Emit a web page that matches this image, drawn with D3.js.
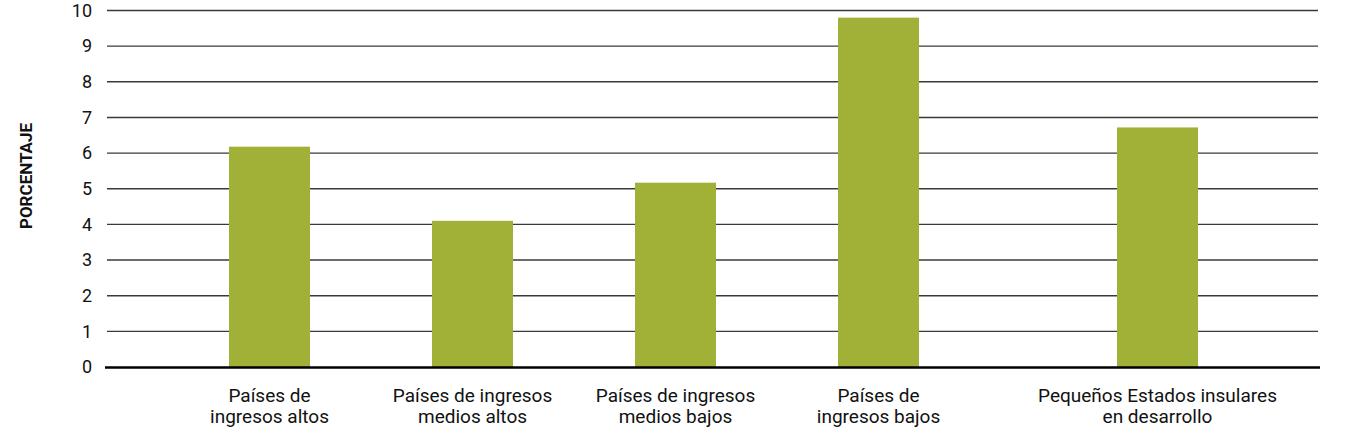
<!DOCTYPE html>
<html><head><meta charset="utf-8">
<script src="https://cdn.jsdelivr.net/npm/d3@7"></script>
<style>
body{margin:0;background:#fff;}
text{font-family:Roboto,"Liberation Sans Narrow",sans-serif;fill:#111;}
</style></head>
<body><svg id="c" width="1347" height="447"></svg>
<script>
const categories = [
  ["Países de","ingresos altos"],
  ["Países de ingresos","medios altos"],
  ["Países de ingresos","medios bajos"],
  ["Países de","ingresos bajos"],
  ["Pequeños Estados insulares","en desarrollo"]
];
const values = [6.18, 4.1, 5.17, 9.8, 6.72];
const yTicks = [0,1,2,3,4,5,6,7,8,9,10];
const yTitle = "PORCENTAJE";

const svg = d3.select("#c");
const mLeft = 107, mRight = 1318, mTop = 10.5, mBottom = 367;
const keys = categories.map((d,i)=>i);
// first four evenly spaced, last one separated by an extra gap
const x = d3.scaleBand().domain(keys.slice(0,4)).range([mLeft+61, mLeft+61+4*203]).paddingInner(0.6).paddingOuter(0.3);
const extraGap = 76;
const cx = i => i < 4 ? x(i) + x.bandwidth()/2 : x(3) + x.bandwidth()/2 + x.step() + extraGap;
const y = d3.scaleLinear().domain([0,10]).range([mBottom, mTop]);
const bw = 81;

// grid
svg.append("g").selectAll("line").data(yTicks.filter(t=>t>0)).join("line")
  .attr("x1", mLeft).attr("x2", mRight)
  .attr("y1", d=>y(d)).attr("y2", d=>y(d))
  .attr("stroke", "#3a3a3a").attr("stroke-width", 1.4);

// y axis labels
const ya = svg.append("g").attr("transform", `translate(${mLeft},0)`)
  .call(d3.axisLeft(y).tickValues(yTicks).tickSize(0).tickPadding(15).tickFormat(d3.format("d")));
ya.select(".domain").remove();
ya.selectAll("text").style("font-size","18px").style("font-family","Roboto, sans-serif").attr("fill","#111");

// bars
svg.append("g").selectAll("rect").data(values).join("rect")
  .attr("x", (d,i)=>cx(i)-bw/2).attr("width", bw)
  .attr("y", d=>y(d)).attr("height", d=>y(0)-y(d))
  .attr("fill", "#a1b036");

// baseline
svg.append("line").attr("x1", mLeft-2).attr("x2", mRight+2)
  .attr("y1", y(0)+0.5).attr("y2", y(0)+0.5).attr("stroke","#000").attr("stroke-width",2.5);

// category labels
const lab = svg.append("g").selectAll("text").data(categories).join("text")
  .attr("text-anchor","middle").style("font-size","19px")
  .attr("transform",(d,i)=>`translate(${cx(i)},${y(0)+35})`);
lab.selectAll("tspan").data(d=>d).join("tspan")
  .attr("x",0).attr("dy",(d,j)=>j===0?0:21).text(d=>d);

// y title
svg.append("text").attr("transform",`translate(32,${176}) rotate(-90)`)
  .attr("text-anchor","middle").style("font-size","17px").style("font-weight","700").text(yTitle);
</script></body></html>
